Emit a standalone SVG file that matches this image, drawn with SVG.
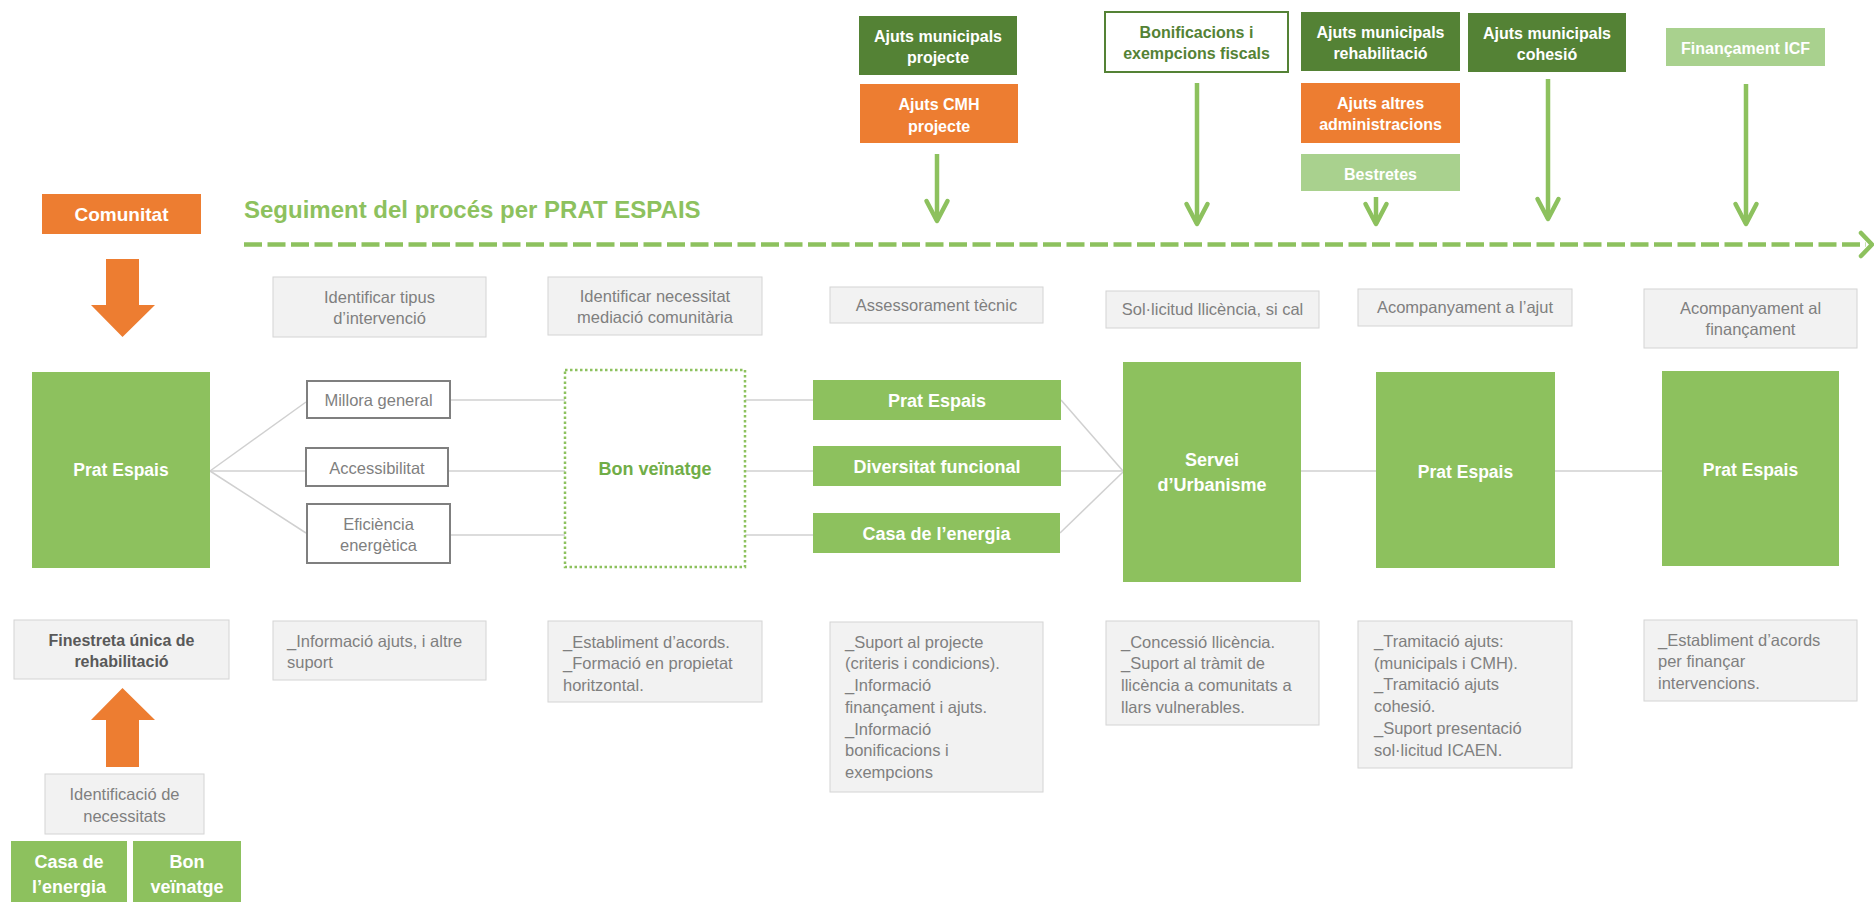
<svg xmlns="http://www.w3.org/2000/svg" width="1874" height="902" viewBox="0 0 1874 902">
<style>
.bg{fill:#ffffff}
.gray{fill:#F2F2F2;stroke:#D4D4D4;stroke-width:1}
.opt{fill:#ffffff;stroke:#7F7F7F;stroke-width:2}
.green{fill:#8DC15E}
.dkgreen{fill:#548235}
.ltgreen{fill:#A9D18E}
.orange{fill:#ED7D31}
.t{font-family:"Liberation Sans",Arial,sans-serif;font-size:16.5px;fill:#7F7F7F}
.c{text-anchor:middle}
.tb{font-family:"Liberation Sans",Arial,sans-serif;font-weight:bold;fill:#ffffff;text-anchor:middle}
.conn line{stroke:#D0D0D0;stroke-width:1.5}
.garrow{stroke:#8DC15E;stroke-width:4.5;fill:none;marker-end:url(#chev)}
</style>
<defs>
<marker id="chev" markerUnits="userSpaceOnUse" markerWidth="40" markerHeight="40" viewBox="-30 -20 40 40" refX="0" refY="0" orient="auto" overflow="visible">
<path d="M-20,-10.5 L0,0 L-20,10.5" fill="none" stroke="#8DC15E" stroke-width="4.5" stroke-linecap="round" stroke-linejoin="round"/>
</marker>
</defs>
<rect class="bg" x="0" y="0" width="1874" height="902"/>

<!-- connectors -->
<g id="connectors" class="conn">
<line x1="210" y1="471" x2="306" y2="402"/>
<line x1="210" y1="471" x2="306" y2="471"/>
<line x1="210" y1="471" x2="306" y2="533"/>
<line x1="450" y1="400" x2="565" y2="400"/>
<line x1="448" y1="471" x2="565" y2="471"/>
<line x1="450" y1="535" x2="565" y2="535"/>
<line x1="745" y1="400" x2="813" y2="400"/>
<line x1="745" y1="471" x2="813" y2="471"/>
<line x1="745" y1="535" x2="813" y2="535"/>
<line x1="1061" y1="400" x2="1123" y2="471"/>
<line x1="1061" y1="471" x2="1123" y2="471"/>
<line x1="1060" y1="533" x2="1123" y2="472"/>
<line x1="1301" y1="471" x2="1376" y2="471"/>
<line x1="1555" y1="471" x2="1662" y2="471"/>
</g>

<!-- timeline -->
<g id="timeline">
<text x="244" y="218" font-family="Liberation Sans,Arial,sans-serif" font-weight="bold" font-size="24" fill="#8DC15E">Seguiment del procés per PRAT ESPAIS</text>
<line x1="244" y1="244.5" x2="1866" y2="244.5" stroke="#8DC15E" stroke-width="4.5" stroke-dasharray="18 5.5"/>
<path d="M1861,233 L1872,244.5 L1861,256" fill="none" stroke="#8DC15E" stroke-width="4.5" stroke-linecap="round" stroke-linejoin="round"/>
</g>

<!-- funding arrows -->
<g id="funding-arrows">
<line class="garrow" x1="937" y1="154" x2="937" y2="221"/>
<line class="garrow" x1="1197" y1="83" x2="1197" y2="224"/>
<line class="garrow" x1="1376" y1="197" x2="1376" y2="224"/>
<line class="garrow" x1="1548" y1="79" x2="1548" y2="219"/>
<line class="garrow" x1="1746" y1="84" x2="1746" y2="224"/>
</g>

<!-- left column -->
<g id="comunitat">
<rect class="orange" x="42" y="194" width="159" height="40"/>
<text class="tb" x="121.5" y="220.5" font-size="19">Comunitat</text>
</g>
<g id="arrow-down">
<polygon class="orange" points="106,259 139,259 139,305 155,305 122.5,337 91,305 106,305"/>
</g>
<g id="prat-espais-1">
<rect class="green" x="32" y="372" width="178" height="196"/>
<text class="tb" x="121" y="476" font-size="17.5">Prat Espais</text>
</g>
<g id="finestreta">
<rect class="gray" x="14" y="620" width="215" height="59"/>
<text x="121.5" y="645.5" font-family="Liberation Sans,Arial,sans-serif" font-weight="bold" font-size="16" fill="#595959" text-anchor="middle">Finestreta única de</text>
<text x="121.5" y="666.5" font-family="Liberation Sans,Arial,sans-serif" font-weight="bold" font-size="16" fill="#595959" text-anchor="middle">rehabilitació</text>
</g>
<g id="arrow-up">
<polygon class="orange" points="122.5,688 155,720 139,720 139,767 106,767 106,720 91,720"/>
</g>
<g id="identificacio">
<rect class="gray" x="45" y="774" width="159" height="60"/>
<text class="t c" x="124.5" y="799.5">Identificació de</text>
<text class="t c" x="124.5" y="821.5">necessitats</text>
</g>
<g id="casa-energia-bottom">
<rect class="green" x="11" y="841" width="116" height="61"/>
<text class="tb" x="69" y="868" font-size="18">Casa de</text>
<text class="tb" x="69" y="893" font-size="18">l’energia</text>
</g>
<g id="bon-veinatge-bottom">
<rect class="green" x="133" y="841" width="108" height="61"/>
<text class="tb" x="187" y="868" font-size="18">Bon</text>
<text class="tb" x="187" y="893" font-size="18">veïnatge</text>
</g>

<!-- top gray labels -->
<g id="identificar-tipus">
<rect class="gray" x="273" y="277" width="213" height="60"/>
<text class="t c" x="379.5" y="302.5">Identificar tipus</text>
<text class="t c" x="379.5" y="323.5">d’intervenció</text>
</g>
<g id="identificar-necessitat">
<rect class="gray" x="548" y="277" width="214" height="58"/>
<text class="t c" x="655" y="301.5">Identificar necessitat</text>
<text class="t c" x="655" y="322.5">mediació comunitària</text>
</g>
<g id="assessorament">
<rect class="gray" x="830" y="287" width="213" height="36"/>
<text class="t c" x="936.5" y="311">Assessorament tècnic</text>
</g>
<g id="sollicitud">
<rect class="gray" x="1106" y="291" width="213" height="37"/>
<text class="t c" x="1212.5" y="315">Sol·licitud llicència, si cal</text>
</g>
<g id="acompanyament-ajut">
<rect class="gray" x="1358" y="289" width="214" height="37"/>
<text class="t c" x="1465" y="313">Acompanyament a l’ajut</text>
</g>
<g id="acompanyament-financament">
<rect class="gray" x="1644" y="289" width="213" height="59"/>
<text class="t c" x="1750.5" y="314">Acompanyament al</text>
<text class="t c" x="1750.5" y="335">finançament</text>
</g>

<!-- options -->
<g id="millora">
<rect class="opt" x="307" y="381" width="143" height="37"/>
<text class="t c" x="378.5" y="405.5" font-size="17">Millora general</text>
</g>
<g id="accessibilitat">
<rect class="opt" x="306" y="448" width="142" height="38"/>
<text class="t c" x="377" y="473.5" font-size="17">Accessibilitat</text>
</g>
<g id="eficiencia">
<rect class="opt" x="307" y="504" width="143" height="59"/>
<text class="t c" x="378.5" y="529.5" font-size="17">Eficiència</text>
<text class="t c" x="378.5" y="550.5" font-size="17">energètica</text>
</g>

<g id="bon-veinatge">
<rect x="565" y="370" width="180" height="197" fill="#ffffff" stroke="#8DC15E" stroke-width="2.5" stroke-dasharray="2.5 2.5"/>
<text x="655" y="475" font-family="Liberation Sans,Arial,sans-serif" font-weight="bold" font-size="18" fill="#70AD47" text-anchor="middle">Bon veïnatge</text>
</g>

<g id="prat-espais-small">
<rect class="green" x="813" y="380" width="248" height="40"/>
<text class="tb" x="937" y="406.5" font-size="18">Prat Espais</text>
</g>
<g id="diversitat">
<rect class="green" x="813" y="446" width="248" height="40"/>
<text class="tb" x="937" y="472.5" font-size="18">Diversitat funcional</text>
</g>
<g id="casa-energia">
<rect class="green" x="813" y="513" width="247" height="40"/>
<text class="tb" x="936.5" y="539.5" font-size="18">Casa de l’energia</text>
</g>

<g id="servei">
<rect class="green" x="1123" y="362" width="178" height="220"/>
<text class="tb" x="1212" y="466" font-size="18">Servei</text>
<text class="tb" x="1212" y="491" font-size="18">d’Urbanisme</text>
</g>
<g id="prat-espais-2">
<rect class="green" x="1376" y="372" width="179" height="196"/>
<text class="tb" x="1465.5" y="478" font-size="17.5">Prat Espais</text>
</g>
<g id="prat-espais-3">
<rect class="green" x="1662" y="371" width="177" height="195"/>
<text class="tb" x="1750.5" y="476" font-size="17.5">Prat Espais</text>
</g>

<!-- funding boxes -->
<g id="ajuts-mun-projecte">
<rect class="dkgreen" x="859" y="16" width="158" height="59"/>
<text class="tb" x="938" y="41.5" font-size="16">Ajuts municipals</text>
<text class="tb" x="938" y="62.5" font-size="16">projecte</text>
</g>
<g id="ajuts-cmh">
<rect class="orange" x="860" y="84" width="158" height="59"/>
<text class="tb" x="939" y="109.5" font-size="16">Ajuts CMH</text>
<text class="tb" x="939" y="131.5" font-size="16">projecte</text>
</g>
<g id="bonificacions">
<rect x="1105" y="12" width="183" height="60" fill="#ffffff" stroke="#548235" stroke-width="2"/>
<text x="1196.5" y="37.5" font-family="Liberation Sans,Arial,sans-serif" font-weight="bold" font-size="16" fill="#548235" text-anchor="middle">Bonificacions i</text>
<text x="1196.5" y="58.5" font-family="Liberation Sans,Arial,sans-serif" font-weight="bold" font-size="16" fill="#548235" text-anchor="middle">exempcions fiscals</text>
</g>
<g id="ajuts-mun-rehab">
<rect class="dkgreen" x="1301" y="12" width="159" height="59"/>
<text class="tb" x="1380.5" y="37.5" font-size="16">Ajuts municipals</text>
<text class="tb" x="1380.5" y="58.5" font-size="16">rehabilitació</text>
</g>
<g id="ajuts-altres">
<rect class="orange" x="1301" y="83" width="159" height="60"/>
<text class="tb" x="1380.5" y="108.5" font-size="16">Ajuts altres</text>
<text class="tb" x="1380.5" y="129.5" font-size="16">administracions</text>
</g>
<g id="bestretes">
<rect class="ltgreen" x="1301" y="154" width="159" height="37"/>
<text class="tb" x="1380.5" y="179.5" font-size="16">Bestretes</text>
</g>
<g id="ajuts-mun-cohesio">
<rect class="dkgreen" x="1468" y="13" width="158" height="59"/>
<text class="tb" x="1547" y="38.5" font-size="16">Ajuts municipals</text>
<text class="tb" x="1547" y="59.5" font-size="16">cohesió</text>
</g>
<g id="financament-icf">
<rect class="ltgreen" x="1666" y="28" width="159" height="38"/>
<text class="tb" x="1745.5" y="53.5" font-size="16">Finançament ICF</text>
</g>

<!-- bottom descriptions -->
<g id="info-ajuts">
<rect class="gray" x="273" y="621" width="213" height="59"/>
<text class="t" x="287" y="646.5">_Informació ajuts, i altre</text>
<text class="t" x="287" y="667.5">suport</text>
</g>
<g id="establiment-acords">
<rect class="gray" x="548" y="621" width="214" height="81"/>
<text class="t" x="563" y="647.5">_Establiment d’acords.</text>
<text class="t" x="563" y="668.5">_Formació en propietat</text>
<text class="t" x="563" y="690.5">horitzontal.</text>
</g>
<g id="suport-projecte">
<rect class="gray" x="830" y="622" width="213" height="170"/>
<text class="t" x="845" y="647.5">_Suport al projecte</text>
<text class="t" x="845" y="669">(criteris i condicions).</text>
<text class="t" x="845" y="691">_Informació</text>
<text class="t" x="845" y="712.5">finançament i ajuts.</text>
<text class="t" x="845" y="734.5">_Informació</text>
<text class="t" x="845" y="756">bonificacions i</text>
<text class="t" x="845" y="778">exempcions</text>
</g>
<g id="concessio">
<rect class="gray" x="1106" y="621" width="213" height="104"/>
<text class="t" x="1121" y="647.5">_Concessió llicència.</text>
<text class="t" x="1121" y="669">_Suport al tràmit de</text>
<text class="t" x="1121" y="691">llicència  a comunitats a</text>
<text class="t" x="1121" y="712.5">llars vulnerables.</text>
</g>
<g id="tramitacio">
<rect class="gray" x="1358" y="621" width="214" height="147"/>
<text class="t" x="1374" y="646.5">_Tramitació ajuts:</text>
<text class="t" x="1374" y="668.5">(municipals i CMH).</text>
<text class="t" x="1374" y="690">_Tramitació ajuts</text>
<text class="t" x="1374" y="711.5">cohesió.</text>
<text class="t" x="1374" y="734">_Suport presentació</text>
<text class="t" x="1374" y="755.5">sol·licitud  ICAEN.</text>
</g>
<g id="establiment-financar">
<rect class="gray" x="1644" y="620" width="213" height="81"/>
<text class="t" x="1658" y="645.5">_Establiment d’acords</text>
<text class="t" x="1658" y="666.5">per finançar</text>
<text class="t" x="1658" y="688.5">intervencions.</text>
</g>
</svg>
